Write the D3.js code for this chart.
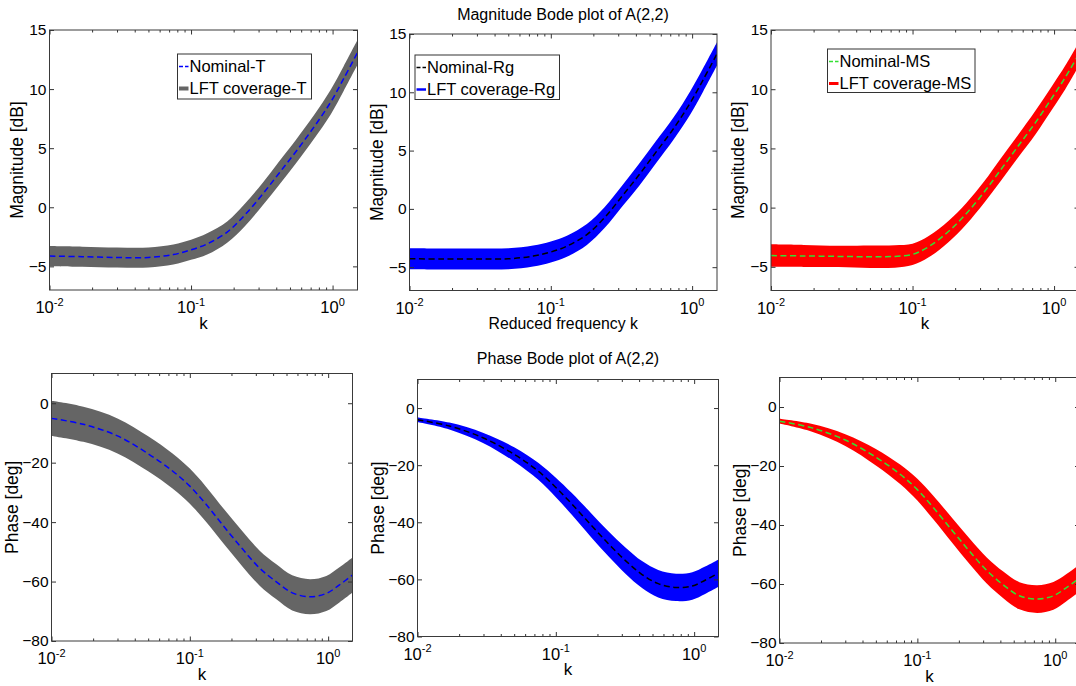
<!DOCTYPE html>
<html>
<head>
<meta charset="utf-8">
<script src="https://cdn.jsdelivr.net/npm/d3@7.9.0/dist/d3.min.js"></script>
<style>
  body { margin: 0; background: #fff; }
  svg text { font-family: "Liberation Sans", Arial, sans-serif; fill: #000; }
</style>
</head>
<body>
<svg id="chart" width="1076" height="686"></svg>
<script>
// reduced frequency samples shared by every panel
const kValues = [0.01, 0.017, 0.03, 0.05, 0.075, 0.1, 0.13, 0.18, 0.24, 0.32, 0.42, 0.55, 0.74, 0.97, 1.2, 1.5];

// magnitude [dB] : nominal curve and half width of the LFT coverage band
const magNominalT  = [-4.13, -4.18, -4.25, -4.25, -4.0, -3.6, -3.1, -2.1, -0.65, 1.1, 2.9, 4.7, 6.8, 8.9, 10.9, 13.1];
const magSpreadT   = [0.85, 0.85, 0.85, 0.85, 0.85, 0.85, 0.9, 0.9, 0.95, 0.95, 1.0, 1.0, 1.0, 1.05, 1.05, 1.05];
const magNominalRg = [-4.28, -4.3, -4.3, -4.28, -4.05, -3.7, -3.2, -2.2, -0.75, 1.1, 2.9, 4.8, 6.9, 9.1, 11.1, 13.3];
const magSpreadRg  = [0.9, 0.9, 0.9, 0.9, 0.9, 0.9, 0.9, 0.9, 0.9, 0.9, 0.95, 0.95, 0.95, 1.0, 1.0, 1.0];
const magNominalMS = [-4.05, -4.08, -4.12, -4.15, -4.12, -3.95, -3.3, -2.0, -0.5, 1.3, 3.2, 5.1, 7.2, 9.3, 11.0, 13.0];
const magSpreadMS  = [0.95, 0.93, 0.9, 0.95, 0.95, 0.9, 0.9, 0.9, 0.9, 0.9, 0.95, 0.95, 1.0, 1.0, 1.0, 1.0];

// phase [deg]
const phNominalT  = [-5.1, -7.1, -11, -17, -22.8, -27.9, -33.8, -42, -49, -55.5, -60, -63.8, -65.1, -64, -61.2, -57.8];
const phSpreadT   = [5.9, 5.9, 5.9, 5.9, 5.9, 5.9, 5.9, 5.9, 5.9, 5.9, 5.9, 5.9, 5.9, 5.9, 5.9, 5.9];
const phNominalRg = [-4.1, -6.3, -10.5, -16.2, -22.2, -27.8, -33.5, -41, -47.5, -53.5, -58.3, -61.5, -62.8, -62.3, -60.3, -57.8];
const phSpreadRg  = [0.8, 1.2, 1.8, 2.5, 3.0, 3.4, 3.8, 4.2, 4.4, 4.6, 4.7, 4.8, 4.8, 4.8, 4.8, 4.8];
const phNominalMS = [-4.8, -7, -11.2, -17, -22.8, -28, -34, -42, -49, -55.5, -60.3, -64, -65.1, -64, -61.3, -58];
const phSpreadMS  = [0.8, 1.3, 2.0, 2.8, 3.3, 3.7, 4.0, 4.2, 4.3, 4.4, 4.5, 4.6, 4.7, 4.7, 4.6, 4.6];

const kDomain = [0.01, 1.5];
const kMajorTicks = [0.01, 0.1, 1];
const magDomain = [-7, 15];
const magTicks = [-5, 0, 5, 10, 15];
const phDomain = [-80, 10];
const phTicks = [-80, -60, -40, -20, 0];

const svg = d3.select("#chart");

const panels = [
  { id: "magT", left: 49.5, right: 357.5, top: 30, bottom: 290, yDomain: magDomain, yTicks: magTicks,
    nominal: magNominalT, spread: magSpreadT, band: "#656565", line: "#0000ff", bandW: 4,
    ylabel: "Magnitude [dB]", xlabel: "k", ylabelOff: 27,
    legend: { x: 177.5, y: 54, w: 134, h: 45, items: ["Nominal-T", "LFT coverage-T"] } },
  { id: "magRg", left: 409.5, right: 717, top: 34, bottom: 290.5, yDomain: magDomain, yTicks: magTicks,
    nominal: magNominalRg, spread: magSpreadRg, band: "#0000ff", line: "#000000", bandW: 2.5,
    ylabel: "Magnitude [dB]", xlabel: "Reduced frequency k", ylabelOff: 27,
    legend: { x: 415, y: 55, w: 144.5, h: 44.5, items: ["Nominal-Rg", "LFT coverage-Rg"] } },
  { id: "magMS", left: 771, right: 1079, top: 30, bottom: 290.5, yDomain: magDomain, yTicks: magTicks,
    nominal: magNominalMS, spread: magSpreadMS, band: "#ff0000", line: "#33e033", bandW: 3,
    ylabel: "Magnitude [dB]", xlabel: "k", ylabelOff: 27,
    legend: { x: 827.5, y: 49, w: 147.5, h: 43.5, items: ["Nominal-MS", "LFT coverage-MS"] } },
  { id: "phT", left: 51.5, right: 352.5, top: 373.5, bottom: 641, yDomain: phDomain, yTicks: phTicks,
    nominal: phNominalT, spread: phSpreadT, band: "#656565", line: "#0000ff",
    ylabel: "Phase [deg]", xlabel: "k", ylabelOff: 34 },
  { id: "phRg", left: 417.5, right: 718.5, top: 379.5, bottom: 636.5, yDomain: phDomain, yTicks: phTicks,
    nominal: phNominalRg, spread: phSpreadRg, band: "#0000ff", line: "#000000",
    ylabel: "Phase [deg]", xlabel: "k", ylabelOff: 34 },
  { id: "phMS", left: 779.5, right: 1079.5, top: 377.5, bottom: 643, yDomain: phDomain, yTicks: phTicks,
    nominal: phNominalMS, spread: phSpreadMS, band: "#ff0000", line: "#33e033",
    ylabel: "Phase [deg]", xlabel: "k", ylabelOff: 34 }
];

const minus = (d) => (d < 0 ? "\u2212" + Math.abs(d) : String(d));

function drawPanel(p) {
  const x = d3.scaleLog().domain(kDomain).range([p.left, p.right]);
  const y = d3.scaleLinear().domain(p.yDomain).range([p.bottom, p.top]);
  const g = svg.append("g");

  svg.append("clipPath").attr("id", "clip-" + p.id)
    .append("rect")
    .attr("x", p.left).attr("y", p.top)
    .attr("width", p.right - p.left).attr("height", p.bottom - p.top);

  const rows = kValues.map((k, i) => ({ k: k, mid: p.nominal[i], lo: p.nominal[i] - p.spread[i], hi: p.nominal[i] + p.spread[i] }));
  const smooth = d3.curveCatmullRom.alpha(0.5);

  const plot = g.append("g").attr("clip-path", `url(#clip-${p.id})`);
  plot.append("path")
    .datum(rows)
    .attr("fill", p.band)
    .attr("d", d3.area().curve(smooth).x((d) => x(d.k)).y0((d) => y(d.lo)).y1((d) => y(d.hi)));
  plot.append("path")
    .datum(rows)
    .attr("fill", "none")
    .attr("stroke", p.line)
    .attr("stroke-width", 1.5)
    .attr("stroke-dasharray", "6,3.5")
    .attr("d", d3.line().curve(smooth).x((d) => x(d.k)).y((d) => y(d.mid)));

  // axes, ticks pointing inward on all four sides
  const minorTicks = x.ticks().filter((t) => !kMajorTicks.some((m) => Math.abs(m - t) < 1e-9));
  const axes = [
    [d3.axisBottom(x).tickValues(kMajorTicks).tickSize(-4.5), `translate(0,${p.bottom})`],
    [d3.axisBottom(x).tickValues(minorTicks).tickSize(-2.5), `translate(0,${p.bottom})`],
    [d3.axisTop(x).tickValues(kMajorTicks).tickSize(-4.5), `translate(0,${p.top})`],
    [d3.axisTop(x).tickValues(minorTicks).tickSize(-2.5), `translate(0,${p.top})`],
    [d3.axisRight(y).tickValues(p.yTicks).tickSize(-4.5), `translate(${p.right},0)`]
  ];
  axes.forEach(([ax, tr]) => {
    const a = g.append("g").attr("transform", tr).call(ax.tickFormat(""));
    a.select(".domain").remove();
    a.selectAll("line").attr("stroke", "#333");
  });

  const left = g.append("g")
    .attr("transform", `translate(${p.left},0)`)
    .call(d3.axisLeft(y).tickValues(p.yTicks).tickSize(-4.5).tickPadding(3).tickFormat(minus));
  left.select(".domain").remove();
  left.selectAll("line").attr("stroke", "#333");
  left.selectAll("text").attr("font-size", 15.5).attr("font-family", null).attr("fill", "#000");

  g.append("rect")
    .attr("x", p.left).attr("y", p.top)
    .attr("width", p.right - p.left).attr("height", p.bottom - p.top)
    .attr("fill", "none").attr("stroke", "#3a3a3a").attr("stroke-width", 1);

  // x tick labels 10^n
  kMajorTicks.forEach((v) => {
    const t = g.append("text")
      .attr("x", x(v)).attr("y", p.bottom + 23)
      .attr("text-anchor", "middle")
      .attr("font-size", 16.5);
    t.append("tspan").text("10");
    t.append("tspan").attr("dy", -7.5).attr("font-size", 11).text(String(Math.round(Math.log10(v))));
  });

  g.append("text")
    .attr("x", (p.left + p.right) / 2).attr("y", p.bottom + 38.5)
    .attr("text-anchor", "middle")
    .attr("font-size", p.xlabel === "k" ? 17 : 15.8)
    .text(p.xlabel);

  g.append("text")
    .attr("transform", `translate(${p.left - p.ylabelOff},${(p.top + p.bottom) / 2}) rotate(-90)`)
    .attr("text-anchor", "middle")
    .attr("font-size", 17.5)
    .text(p.ylabel);

  if (p.legend) {
    const L = p.legend;
    const lg = g.append("g");
    lg.append("rect")
      .attr("x", L.x).attr("y", L.y).attr("width", L.w).attr("height", L.h)
      .attr("fill", "#fff").attr("stroke", "#333").attr("stroke-width", 1);
    const rowY = [L.y + 12.5, L.y + 34.5];
    lg.append("line")
      .attr("x1", L.x + 1.5).attr("x2", L.x + 11).attr("y1", rowY[0]).attr("y2", rowY[0])
      .attr("stroke", p.line).attr("stroke-width", 1.5).attr("stroke-dasharray", "4,2");
    lg.append("line")
      .attr("x1", L.x + 1.5).attr("x2", L.x + 11).attr("y1", rowY[1]).attr("y2", rowY[1])
      .attr("stroke", p.band).attr("stroke-width", p.bandW);
    L.items.forEach((label, i) => {
      lg.append("text")
        .attr("x", L.x + 12).attr("y", rowY[i])
        .attr("dy", "0.36em")
        .attr("font-size", 16.5)
        .text(label);
    });
  }
}

panels.forEach(drawPanel);

svg.append("text")
  .attr("x", 563).attr("y", 19.5)
  .attr("text-anchor", "middle").attr("font-size", 16)
  .text("Magnitude Bode plot of A(2,2)");
svg.append("text")
  .attr("x", 568).attr("y", 364)
  .attr("text-anchor", "middle").attr("font-size", 16)
  .text("Phase Bode plot of A(2,2)");
</script>
</body>
</html>
